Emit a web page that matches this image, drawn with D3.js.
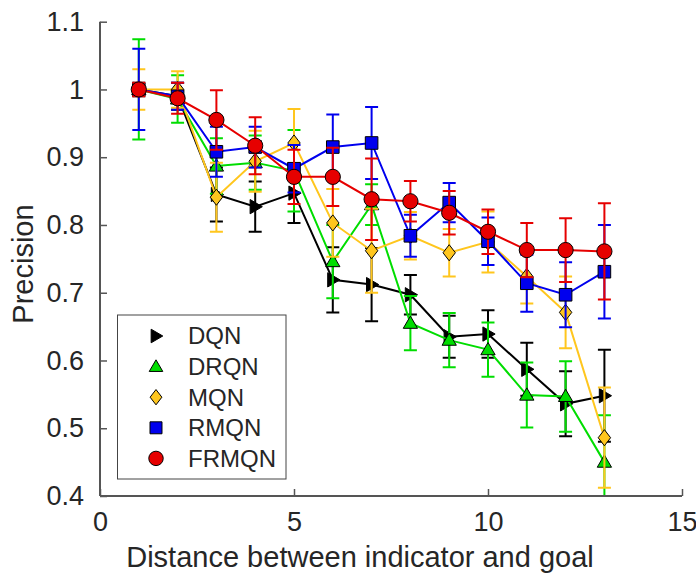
<!DOCTYPE html>
<html>
<head>
<meta charset="utf-8">
<script src="https://cdn.jsdelivr.net/npm/d3@7"></script>
<style>
  body { margin: 0; background: #fff; }
  text { font-family: "Liberation Sans", Arial, sans-serif; fill: #262626; }
</style>
</head>
<body>
<script>
let width = 696;
let height = 577;

// data
const distances = [1, 2, 3, 4, 5, 6, 7, 8, 9, 10, 11, 12, 13];
const seriesNames = ["DQN", "DRQN", "MQN", "RMQN", "FRMQN"];

const dqnMean  = [1.0, 0.99, 0.845, 0.827, 0.847, 0.719, 0.712, 0.697, 0.635, 0.639, 0.587, 0.536, 0.548];
const dqnErr   = [0.01, 0.02, 0.04, 0.037, 0.044, 0.048, 0.054, 0.029, 0.031, 0.035, 0.039, 0.048, 0.068];
const drqnMean = [1.0, 0.986, 0.887, 0.892, 0.88, 0.746, 0.83, 0.655, 0.63, 0.616, 0.549, 0.547, 0.45];
const drqnErr  = [0.074, 0.035, 0.041, 0.04, 0.06, 0.054, 0.03, 0.04, 0.04, 0.04, 0.048, 0.052, 0.069];
const mqnMean  = [1.0, 1.0, 0.841, 0.894, 0.921, 0.803, 0.762, 0.784, 0.759, 0.775, 0.724, 0.671, 0.486];
const mqnErr   = [0.03, 0.027, 0.051, 0.045, 0.05, 0.05, 0.062, 0.035, 0.035, 0.045, 0.04, 0.053, 0.074];
const rmqnMean = [1.0, 0.99, 0.908, 0.915, 0.883, 0.915, 0.921, 0.784, 0.833, 0.776, 0.714, 0.697, 0.731];
const rmqnErr  = [0.06, 0.02, 0.037, 0.03, 0.035, 0.048, 0.053, 0.031, 0.029, 0.035, 0.042, 0.048, 0.069];
const frmqnMean = [1.0, 0.987, 0.955, 0.917, 0.871, 0.871, 0.838, 0.835, 0.818, 0.79, 0.763, 0.763, 0.761];
const frmqnErr  = [0.01, 0.023, 0.044, 0.042, 0.04, 0.043, 0.06, 0.03, 0.032, 0.033, 0.04, 0.047, 0.071];

const xTicks = [0, 5, 10, 15];
const yTicks = [0.4, 0.5, 0.6, 0.7, 0.8, 0.9, 1.0, 1.1];

const colors = ["#000000", "#00dd00", "#ffc61e", "#0000ee", "#e60000"];
const shapes = ["right", "up", "diamond", "square", "circle"];

const series = seriesNames.map((name, i) => ({
  name,
  color: colors[i],
  shape: shapes[i],
  values: distances.map((d, j) => ({
    x: d,
    y: [dqnMean, drqnMean, mqnMean, rmqnMean, frmqnMean][i][j],
    e: [dqnErr, drqnErr, mqnErr, rmqnErr, frmqnErr][i][j]
  }))
}));

let marginLeft = 100;
let marginRight = 14;
let marginTop = 21.7;
let marginBottom = 81;

const x = d3.scaleLinear().domain([0, 15]).range([marginLeft, width - marginRight]);
const y = d3.scaleLinear().domain([0.4, 1.1]).range([height - marginBottom, marginTop]);

const svg = d3.select("body").append("svg")
  .attr("width", width)
  .attr("height", height)
  .attr("viewBox", [0, 0, width, height]);

svg.append("defs").append("clipPath")
  .attr("id", "clip")
  .append("rect")
  .attr("x", marginLeft)
  .attr("y", marginTop)
  .attr("width", width - marginLeft - marginRight)
  .attr("height", height - marginTop - marginBottom);

// marker path by shape name
function marker(shape, s) {
  switch (shape) {
    case "circle":
      return d3.symbol(d3.symbolCircle, Math.PI * s * s)();
    case "square":
      return `M${-s},${-s}H${s}V${s}H${-s}Z`;
    case "diamond":
      return `M0,${-s * 1.3}L${s},0L0,${s * 1.3}L${-s},0Z`;
    case "up":
      return `M0,${-s * 1.05}L${s * 1.05},${s * 0.75}L${-s * 1.05},${s * 0.75}Z`;
    case "right":
      return `M${s * 1.05},0L${-s * 0.75},${s * 1.05}L${-s * 0.75},${-s * 1.05}Z`;
  }
}
const markerSize = { circle: 7.6, square: 6.3, diamond: 6.2, up: 6.8, right: 6.8 };

const plot = svg.append("g").attr("clip-path", "url(#clip)");
const line = d3.line().x(d => x(d.x)).y(d => y(d.y));
const cap = 6.5;

series.forEach(s => {
  const g = plot.append("g");

  g.selectAll(".bar")
    .data(s.values)
    .join("path")
    .attr("fill", "none")
    .attr("stroke", s.color)
    .attr("stroke-width", 2)
    .attr("d", d => {
      const px = x(d.x), top = y(d.y + d.e), bot = y(d.y - d.e);
      return `M${px},${top}V${bot}M${px - cap},${top}H${px + cap}M${px - cap},${bot}H${px + cap}`;
    });

  g.append("path")
    .datum(s.values)
    .attr("fill", "none")
    .attr("stroke", s.color)
    .attr("stroke-width", 2)
    .attr("d", line);

  g.selectAll(".pt")
    .data(s.values)
    .join("path")
    .attr("transform", d => `translate(${x(d.x)},${y(d.y)})`)
    .attr("d", marker(s.shape, markerSize[s.shape]))
    .attr("fill", s.color)
    .attr("stroke", "#000")
    .attr("stroke-width", 1);
});

// axes
const axisColor = "#555";

svg.append("g")
  .attr("transform", `translate(0,${height - marginBottom})`)
  .call(d3.axisBottom(x).tickValues(xTicks).tickSize(-7).tickPadding(16).tickFormat(d3.format("~g")))
  .call(g => g.select(".domain").attr("stroke", axisColor).attr("stroke-width", 2)
    .attr("d", `M${marginLeft},0H${width - marginRight}`))
  .call(g => g.selectAll(".tick line").attr("stroke", axisColor).attr("stroke-width", 1.5))
  .call(g => g.selectAll(".tick text").attr("font-size", 27).attr("fill", "#262626")
    .attr("font-family", "Liberation Sans, Arial, sans-serif"));

svg.append("g")
  .attr("transform", `translate(${marginLeft},0)`)
  .call(d3.axisLeft(y).tickValues(yTicks).tickSize(-7).tickPadding(16).tickFormat(d3.format("~g")))
  .call(g => g.select(".domain").attr("stroke", axisColor).attr("stroke-width", 2)
    .attr("d", `M0,${marginTop}V${height - marginBottom}`))
  .call(g => g.selectAll(".tick line").attr("stroke", axisColor).attr("stroke-width", 1.5))
  .call(g => g.selectAll(".tick text").attr("font-size", 27).attr("fill", "#262626")
    .attr("font-family", "Liberation Sans, Arial, sans-serif"));

svg.append("text")
  .attr("x", 360)
  .attr("y", 567)
  .attr("text-anchor", "middle")
  .attr("font-size", 29)
  .text("Distance between indicator and goal");

svg.append("text")
  .attr("transform", "translate(33,264) rotate(-90)")
  .attr("text-anchor", "middle")
  .attr("font-size", 29)
  .text("Precision");

// legend
const legend = svg.append("g");
legend.append("rect")
  .attr("x", 117.5)
  .attr("y", 315)
  .attr("width", 168.5)
  .attr("height", 164)
  .attr("fill", "#fff")
  .attr("stroke", "#444")
  .attr("stroke-width", 1);

const rows = legend.selectAll(".row")
  .data(series)
  .join("g")
  .attr("transform", (d, i) => `translate(0,${336 + i * 30.6})`);

rows.append("path")
  .attr("transform", "translate(156,0)")
  .attr("d", d => marker(d.shape, markerSize[d.shape] * 0.95))
  .attr("fill", d => d.color)
  .attr("stroke", "#000")
  .attr("stroke-width", 1);

rows.append("text")
  .attr("x", 188)
  .attr("dy", "0.35em")
  .attr("font-size", 24)
  .text(d => d.name);
</script>
</body>
</html>
